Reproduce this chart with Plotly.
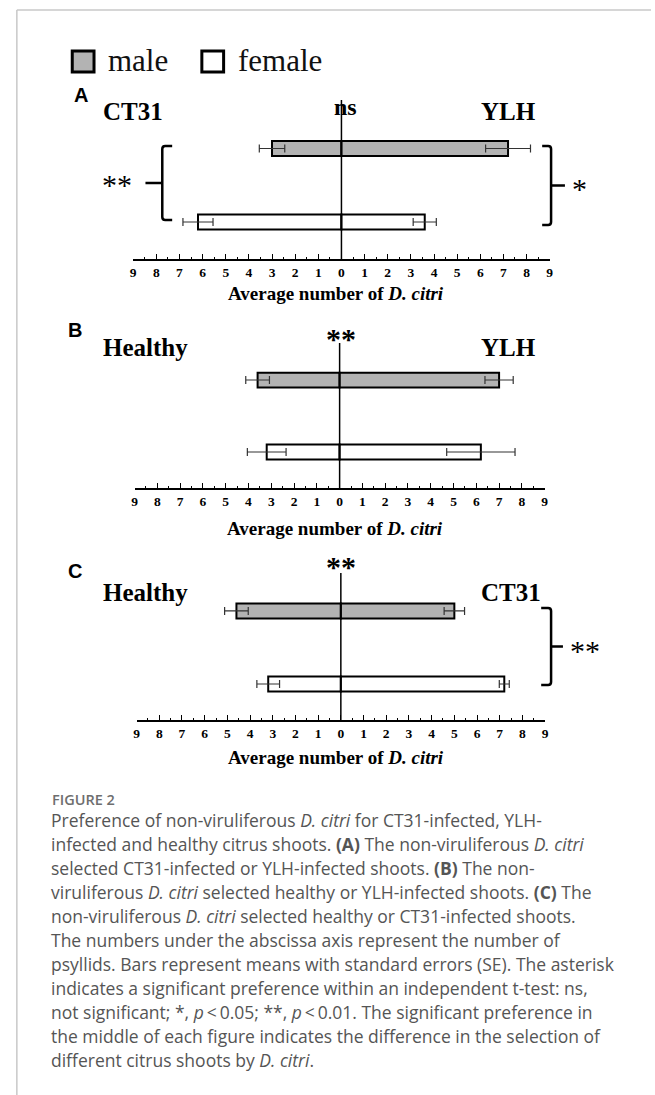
import plotly.graph_objects as go

W, H = 655, 1095

# ---------------- data ----------------
sexes = ["male", "female"]
sex_pos = [1, 0]
panel_letters = ["A", "B", "C"]
left_names = ["CT31", "Healthy", "Healthy"]
right_names = ["YLH", "YLH", "CT31"]
center_sig = ["ns", "**", "**"]

A_left = [3.0, 6.2]
A_left_se = [0.55, 0.65]
A_right = [7.2, 3.6]
A_right_se = [0.97, 0.50]

B_left = [3.6, 3.2]
B_left_se = [0.52, 0.85]
B_right = [7.0, 6.2]
B_right_se = [0.62, 1.50]

C_left = [4.6, 3.2]
C_left_se = [0.52, 0.50]
C_right = [5.0, 7.2]
C_right_se = [0.45, 0.22]

tick_values = list(range(-9, 10))
tick_labels = [str(abs(v)) for v in tick_values]

caption_title = "FIGURE 2"
caption_lines = [
    "Preference of non-viruliferous <i>D. citri</i> for CT31-infected, YLH-",
    "infected and healthy citrus shoots. <b>(A)</b> The non-viruliferous <i>D. citri</i>",
    "selected CT31-infected or YLH-infected shoots. <b>(B)</b> The non-",
    "viruliferous <i>D. citri</i> selected healthy or YLH-infected shoots. <b>(C)</b> The",
    "non-viruliferous <i>D. citri</i> selected healthy or CT31-infected shoots.",
    "The numbers under the abscissa axis represent the number of",
    "psyllids. Bars represent means with standard errors (SE). The asterisk",
    "indicates a significant preference within an independent t-test: ns,",
    "not significant; *, <i>p</i>\u2009&lt;\u20090.05; **, <i>p</i>\u2009&lt;\u20090.01. The significant preference in",
    "the middle of each figure indicates the difference in the selection of",
    "different citrus shoots by <i>D. citri</i>.",
]

panels = [
    (A_left, A_left_se, A_right, A_right_se),
    (B_left, B_left_se, B_right, B_right_se),
    (C_left, C_left_se, C_right, C_right_se),
]

# ---------------- layout geometry (pixels) ----------------
def X(px):
    return px / W

def Y(py):
    return 1 - py / H

x_px = [(131.6, 552.6), (133, 547.5), (135, 548)]
y_px = [(100, 259), (343, 488), (573, 720)]
y_ranges = [(-0.503, 1.66), (-0.50, 1.514), (-0.493, 1.52)]

SERIF = "Liberation Serif, Times New Roman, serif"
SANS = "Liberation Sans, Arial, sans-serif"
CAP = "Open Sans, Noto Sans, sans-serif"

fill = {"male": "#b3b3b3", "female": "#ffffff"}

fig = go.Figure()
layout = dict(
    width=W, height=H, margin=dict(l=0, r=0, t=0, b=0),
    paper_bgcolor="white", plot_bgcolor="white", showlegend=False,
)
shapes = []
annotations = []

for i, (lv, lse, rv, rse) in enumerate(panels):
    xa = "x" if i == 0 else f"x{i+1}"
    ya = "y" if i == 0 else f"y{i+1}"
    for j, sex in enumerate(sexes):
        for vals, ses in ((lv, lse), (rv, rse)):
            sign = -1 if vals is lv else 1
            fig.add_trace(go.Bar(
                orientation="h",
                x=[sign * vals[j]], y=[sex_pos[j]], width=0.205,
                marker=dict(color=fill[sex], line=dict(color="black", width=2)),
                error_x=dict(type="data", array=[ses[j]], symmetric=True,
                             color="#333333", thickness=1.2, width=4),
                xaxis=xa, yaxis=ya, hoverinfo="skip",
            ))
    kx = "xaxis" if i == 0 else f"xaxis{i+1}"
    ky = "yaxis" if i == 0 else f"yaxis{i+1}"
    layout[kx] = dict(
        domain=[X(x_px[i][0]), X(x_px[i][1])], range=[-9, 9], anchor=ya,
        showgrid=False, zeroline=False, showline=True, linecolor="black", linewidth=1.5,
        ticks="inside", ticklen=5, tickwidth=1.2, tickcolor="black",
        tickvals=tick_values, ticktext=tick_labels,
        tickfont=dict(family=SERIF, size=13.5, color="black", weight="bold"),
        minor=dict(dtick=0.5, ticks="inside", ticklen=2.5, tickwidth=1, tickcolor="black"),
        fixedrange=True,
    )
    layout[ky] = dict(
        domain=[Y(y_px[i][1]), Y(y_px[i][0])], range=list(y_ranges[i]), anchor=xa,
        visible=False, fixedrange=True,
    )
    # central zero line
    shapes.append(dict(type="line", xref=xa, yref=f"{ya} domain", x0=0, x1=0, y0=0, y1=1,
                       line=dict(color="black", width=1.5), layer="above"))
    # axis title
    cx = (x_px[i][0] + x_px[i][1]) / 2 - 5
    title_y = [293, 528, 757][i]
    annotations.append(dict(xref="paper", yref="paper", x=X(cx), y=Y(title_y),
                            text="Average number of <i>D. citri</i>", showarrow=False,
                            font=dict(family=SERIF, size=19, color="black", weight="bold"),
                            xanchor="center", yanchor="middle"))

# panel letters and side names
letter_pos = [(70, 95), (64, 330), (64, 571)]
name_y = [112, 347, 592]
left_cx = [131, 144, 144]
right_cx = [511, 511, 513]
sig_pos = [(346, 107), (342, 339), (342, 566)]
for i in range(3):
    annotations.append(dict(xref="paper", yref="paper", x=X(letter_pos[i][0]), y=Y(letter_pos[i][1]),
                            text=f"<b>{panel_letters[i]}</b>", showarrow=False,
                            font=dict(family=SANS, size=20, color="black"),
                            xanchor="left", yanchor="middle"))
    annotations.append(dict(xref="paper", yref="paper", x=X(left_cx[i]), y=Y(name_y[i]),
                            text=left_names[i], showarrow=False,
                            font=dict(family=SERIF, size=25, color="black", weight="bold"),
                            xanchor="center", yanchor="middle"))
    annotations.append(dict(xref="paper", yref="paper", x=X(right_cx[i]), y=Y(name_y[i]),
                            text=right_names[i], showarrow=False,
                            font=dict(family=SERIF, size=25, color="black", weight="bold"),
                            xanchor="center", yanchor="middle"))
    annotations.append(dict(xref="paper", yref="paper", x=X(sig_pos[i][0]), y=Y(sig_pos[i][1]),
                            text=center_sig[i], showarrow=False,
                            font=dict(family=SERIF, size=24 if center_sig[i] == "ns" else 30,
                                      color="black", weight="bold"),
                            xanchor="center", yanchor="middle"))

# braces for within-sex comparisons
def brace(xline, xserif, xtick, ytop, ybot):
    r = 3 if xserif > xline else -3
    ymid = (ytop + ybot) / 2
    p = (f"M {X(xserif)},{Y(ytop)} L {X(xline + r)},{Y(ytop)} "
         f"Q {X(xline)},{Y(ytop)} {X(xline)},{Y(ytop + 3)} "
         f"L {X(xline)},{Y(ybot - 3)} Q {X(xline)},{Y(ybot)} {X(xline + r)},{Y(ybot)} "
         f"L {X(xserif)},{Y(ybot)} M {X(xline)},{Y(ymid)} L {X(xtick)},{Y(ymid)}")
    return dict(type="path", xref="paper", yref="paper", path=p,
                line=dict(color="black", width=2.5))

shapes.append(brace(161, 171, 144, 146, 220))
shapes.append(brace(554, 545, 568, 146, 225))
shapes.append(brace(554, 544, 566, 608, 685))

side_sig = [("**", 115, 185), ("*", 583, 188), ("**", 588, 650)]
for txt, sx, sy in side_sig:
    annotations.append(dict(xref="paper", yref="paper", x=X(sx), y=Y(sy), text=txt,
                            showarrow=False,
                            font=dict(family=SERIF, size=30, color="black"),
                            xanchor="center", yanchor="middle"))

# legend
for sex, x0, tx in (("male", 70, 104), ("female", 201, 236)):
    shapes.append(dict(type="rect", xref="paper", yref="paper",
                       x0=X(x0), x1=X(x0 + 22), y0=Y(72), y1=Y(51),
                       fillcolor=fill[sex], line=dict(color="black", width=3)))
    annotations.append(dict(xref="paper", yref="paper", x=X(tx), y=Y(60), text=sex,
                            showarrow=False, font=dict(family=SERIF, size=31, color="#111111"),
                            xanchor="left", yanchor="middle"))

# page frame
shapes.append(dict(type="line", xref="paper", yref="paper", x0=X(14), x1=1, y0=Y(10), y1=Y(10),
                   line=dict(color="#c8c8c8", width=1.5)))
shapes.append(dict(type="line", xref="paper", yref="paper", x0=X(14), x1=X(14), y0=Y(10), y1=0,
                   line=dict(color="#c8c8c8", width=1.5)))

# caption
annotations.append(dict(xref="paper", yref="paper", x=X(48), y=Y(799), text=caption_title,
                        showarrow=False, font=dict(family=CAP, size=14.5, color="#6e6e6e", weight=600),
                        xanchor="left", yanchor="middle"))
for k, line in enumerate(caption_lines):
    annotations.append(dict(xref="paper", yref="paper", x=X(46), y=Y(820 + 24 * k), text=line,
                            showarrow=False, font=dict(family=CAP, size=17.5, color="#555555"),
                            xanchor="left", yanchor="middle"))

layout["shapes"] = shapes
layout["annotations"] = annotations
layout["barmode"] = "overlay"
fig.update_layout(**layout)
fig.write_html("out.html", config={"displayModeBar": False})
